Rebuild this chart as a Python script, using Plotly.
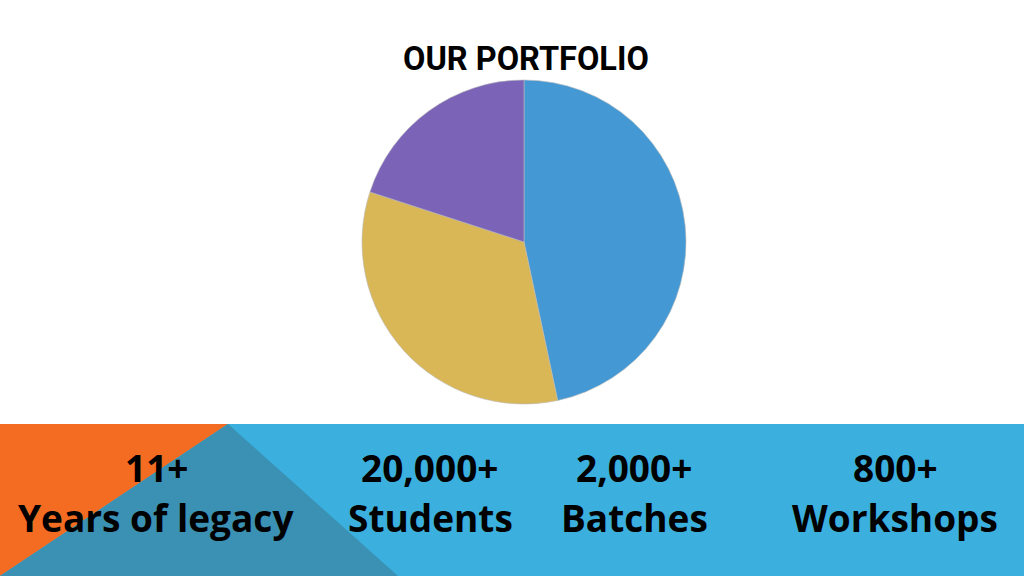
import plotly.graph_objects as go

# Pie data (proportions: ~46.7%, ~33.3%, ~20%)
pie_labels = ["Series 1", "Series 2", "Series 3"]
pie_values = [7, 5, 3]
pie_colors = ["#4499D5", "#D9B757", "#7B63B8"]

# Bottom band statistics
stat_numbers = ["11+", "20,000+", "2,000+", "800+"]
stat_captions = ["Years of legacy", "Students", "Batches", "Workshops"]
stat_x_px = [156, 430, 634, 895]

W, H = 1024, 576

fig = go.Figure()
fig.add_trace(go.Pie(
    labels=pie_labels,
    values=pie_values,
    sort=False,
    direction="clockwise",
    rotation=0,
    marker=dict(colors=pie_colors, line=dict(color="#B8B8B8", width=0.6)),
    textinfo="none",
    hoverinfo="label+value+percent",
    showlegend=False,
    domain=dict(x=[362 / W, 686 / W], y=[(576 - 404) / H, (576 - 80) / H]),
))

band_top = (576 - 424) / H
shapes = [
    dict(type="rect", xref="paper", yref="paper", x0=0, x1=1, y0=0, y1=band_top,
         fillcolor="#3BAFDE", line=dict(width=0), layer="below"),
    dict(type="path", xref="paper", yref="paper",
         path=f"M 0 {band_top} L {228 / W} {band_top} L 0 0 Z",
         fillcolor="#F36C21", line=dict(width=0), layer="below"),
    dict(type="path", xref="paper", yref="paper",
         path=f"M {228 / W} {band_top} L {398 / W} 0 L 0 0 Z",
         fillcolor="#3A91B4", line=dict(width=0), layer="below"),
]

annotations = [
    dict(text="<b>OUR PORTFOLIO</b>", x=526 / W, y=(576 - 59) / H, xref="paper", yref="paper",
         showarrow=False, xanchor="center", yanchor="middle",
         font=dict(family="Roboto", size=32.5, color="#000000")),
]
for num, cap, xp in zip(stat_numbers, stat_captions, stat_x_px):
    annotations.append(dict(text=f"<b>{num}</b>", x=xp / W, y=(576 - 467) / H,
                            xref="paper", yref="paper", showarrow=False,
                            xanchor="center", yanchor="middle",
                            font=dict(family="Open Sans", size=37, color="#000000")))
    annotations.append(dict(text=f"<b>{cap}</b>", x=xp / W, y=(576 - 517) / H,
                            xref="paper", yref="paper", showarrow=False,
                            xanchor="center", yanchor="middle",
                            font=dict(family="Open Sans", size=37, color="#000000")))

fig.update_layout(
    width=W, height=H,
    margin=dict(l=0, r=0, t=0, b=0),
    paper_bgcolor="#FFFFFF",
    plot_bgcolor="#FFFFFF",
    shapes=shapes,
    annotations=annotations,
)

fig.write_html("out.html",
               config={"displayModeBar": False},
               post_script="document.body.style.margin='0';document.body.style.overflow='hidden';")
